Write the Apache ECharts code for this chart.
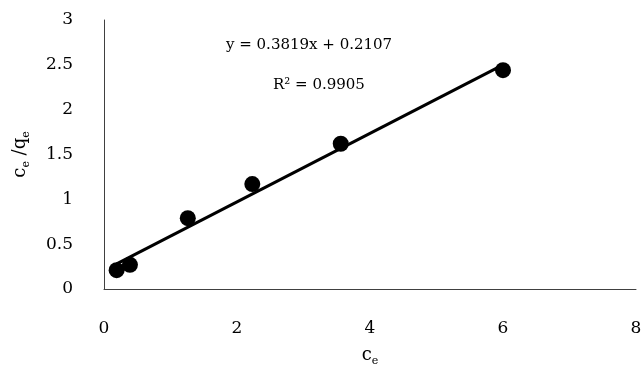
<!DOCTYPE html>
<html>
<head>
<meta charset="utf-8">
<script src="https://cdn.jsdelivr.net/npm/echarts@6/dist/echarts.min.js"></script>
<style>
html,body{margin:0;padding:0;background:#fff;}
#chart{width:641px;height:367px;}
</style>
</head>
<body>
<div id="chart"></div>
<script>
// Data
const ceValues = [0.19, 0.39, 1.26, 2.23, 3.56, 6.0];
const ceqeValues = [0.21, 0.27, 0.79, 1.17, 1.62, 2.44];
// Trendline endpoints (at the data's x range)
const trendX = [0.19, 6.0];
const trendY = [0.28, 2.50];
const xTicks = [0, 2, 4, 6, 8];
const yTicks = [0, 0.5, 1, 1.5, 2, 2.5, 3];
const equationText = 'y = 0.3819x + 0.2107';
const r2Text = 'R² = 0.9905';

const FONT = '"DejaVu Serif", "Liberation Serif", serif';
const chart = echarts.init(document.getElementById('chart'));

const points = ceValues.map((x, i) => [x, ceqeValues[i]]);
const trend = trendX.map((x, i) => [x, trendY[i]]);

const nameRich = {
  b: { fontSize: 18, fontFamily: FONT, color: '#000' },
  s: { fontSize: 11, fontFamily: FONT, color: '#000', padding: [12, 0, 0, 0] }
};

chart.setOption({
  backgroundColor: '#ffffff',
  animation: false,
  textStyle: { fontFamily: FONT },
  grid: { left: 104, right: 5, top: 20, bottom: 78, containLabel: false, outerBoundsMode: 'none' },
  xAxis: {
    type: 'value',
    min: xTicks[0], max: xTicks[xTicks.length - 1], interval: 2,
    axisLine: { show: true, lineStyle: { color: '#404040', width: 1 } },
    axisTick: { show: false },
    splitLine: { show: false },
    axisLabel: { color: '#000', fontSize: 17, fontFamily: FONT, margin: 31 },
    name: '{b|c}{s|e}',
    nameLocation: 'middle',
    nameGap: 55,
    nameTextStyle: { rich: nameRich }
  },
  yAxis: {
    type: 'value',
    min: yTicks[0], max: yTicks[yTicks.length - 1], interval: 0.5,
    axisLine: { show: true, lineStyle: { color: '#404040', width: 1 } },
    axisTick: { show: false },
    splitLine: { show: false },
    axisLabel: { color: '#000', fontSize: 17, fontFamily: FONT, margin: 31 },
    name: '{b|c}{s|e}{b| /q}{s|e}',
    nameLocation: 'middle',
    nameRotate: 90,
    nameGap: 72,
    nameTextStyle: { rich: nameRich }
  },
  series: [
    {
      type: 'line',
      data: trend,
      symbol: 'none',
      lineStyle: { color: '#000', width: 3 },
      z: 2
    },
    {
      type: 'scatter',
      data: points,
      symbol: 'circle',
      symbolSize: 16,
      itemStyle: { color: '#000', opacity: 1 },
      z: 3
    }
  ],
  graphic: [
    { type: 'text', left: 226, top: 38, style: { text: equationText, font: '15px ' + FONT, fill: '#000' } },
    { type: 'text', left: 273, top: 78, style: { text: r2Text, font: '15px ' + FONT, fill: '#000' } }
  ]
});
</script>
</body>
</html>
